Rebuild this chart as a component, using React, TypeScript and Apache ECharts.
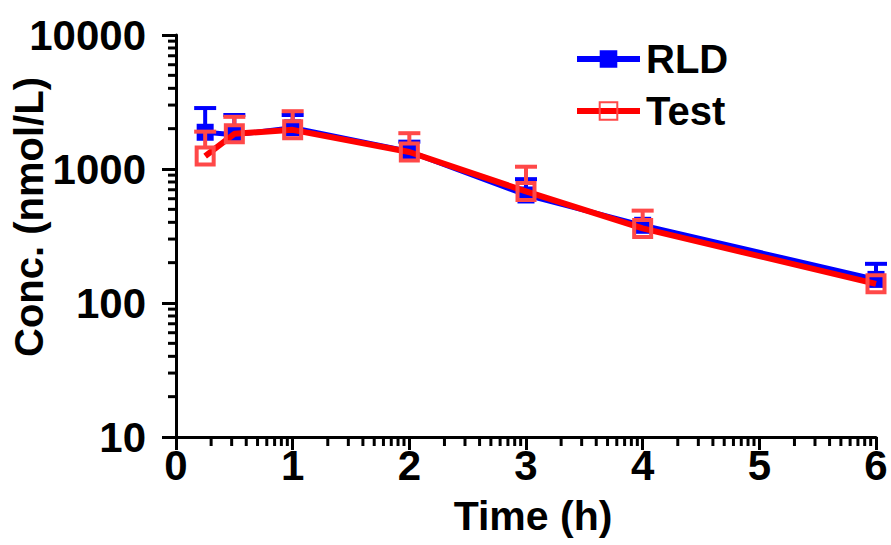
import React, { useEffect, useRef } from 'react';
import * as echarts from 'echarts';

const times = [0.25, 0.5, 1, 2, 3, 4, 6];
const rldMean = [1880, 1800, 2030, 1350, 640, 380, 150];
const rldUpper = [2850, 2530, 2530, 1600, 840, 440, 196];
const testMean = [1250, 1830, 1960, 1340, 680, 360, 139];
const testUpper = [1900, 2450, 2700, 1850, 1040, 489, 145];
const xMajor = [0, 1, 2, 3, 4, 5, 6];
const yMajor = [10, 100, 1000, 10000];
const minorMultipliers = [2, 3, 4, 5, 6, 7, 8, 9];

const FONT = '"Liberation Sans", Arial, Helvetica, sans-serif';
const BLUE = '#0000ff';
const RED_LINE = '#ff0000';
const RED_MARK = '#ff4848';

const xMinor: number[] = [];
for (let k = 0; k < xMajor.length - 1; k++) {
  for (const m of minorMultipliers) xMinor.push(xMajor[k] + Math.log10(m));
}
const yMinor: number[] = [];
for (let k = 0; k < yMajor.length - 1; k++) {
  for (const m of minorMultipliers) yMinor.push(yMajor[k] * m);
}

function errorBarSeries(name: string, means: number[], uppers: number[], color: string, half: number, z: number) {
  return {
    type: 'custom',
    name,
    z,
    coordinateSystem: 'cartesian2d',
    clip: false,
    silent: true,
    data: times.map((t, i) => [t, means[i], uppers[i]]),
    renderItem: (params: any, api: any) => {
      const x = api.value(0);
      const m = api.value(1);
      const u = api.value(2);
      const pm = api.coord([x, m]);
      const pu = api.coord([x, u]);
      const y0 = pm[1] - half;
      if (pu[1] >= y0 - 1) return { type: 'group', children: [] };
      return {
        type: 'group',
        children: [
          { type: 'line', shape: { x1: pm[0], y1: y0, x2: pm[0], y2: pu[1] }, style: { stroke: color, lineWidth: 4 } },
          { type: 'line', shape: { x1: pm[0] - 11, y1: pu[1], x2: pm[0] + 11, y2: pu[1] }, style: { stroke: color, lineWidth: 4 } },
        ],
      };
    },
  };
}

export default function App() {
  const ref = useRef<HTMLDivElement>(null);
  useEffect(() => {
    if (!ref.current) return;
    const chart = echarts.init(ref.current, null, { renderer: 'svg' });
    const labelStyle = { color: '#000', fontSize: 42, fontWeight: 'bold', fontFamily: FONT };
    chart.setOption({
      animation: false,
      backgroundColor: '#fff',
      grid: { left: 176, right: 15, top: 35, bottom: 108, containLabel: false },
      legend: {
        orient: 'vertical',
        left: 574,
        top: 39,
        padding: 0,
        itemWidth: 63,
        itemHeight: 22,
        itemGap: 12,
        data: ['RLD', 'Test'],
        lineStyle: { width: 6 },
        textStyle: { color: '#000', fontSize: 40, fontWeight: 'bold', fontFamily: FONT, padding: [0, 0, 0, 1] },
      },
      xAxis: {
        type: 'value',
        min: 0,
        max: 6,
        interval: 1,
        axisLine: { onZero: false, lineStyle: { color: '#000', width: 3 } },
        axisTick: { show: true, length: 13, lineStyle: { color: '#000', width: 3 } },
        axisLabel: { ...labelStyle, margin: 7, formatter: (v: number) => String(v) },
        splitLine: { show: false },
      },
      yAxis: {
        type: 'log',
        logBase: 10,
        min: 10,
        max: 10000,
        axisLine: { show: true, lineStyle: { color: '#000', width: 3 } },
        axisTick: { show: true, length: 14, lineStyle: { color: '#000', width: 3 } },
        axisLabel: { ...labelStyle, margin: 30, formatter: (v: number) => String(Math.round(v)) },
        splitLine: { show: false },
      },
      graphic: [
        {
          type: 'text',
          x: 29,
          y: 217,
          rotation: Math.PI / 2,
          style: { text: 'Conc. (nmol/L)', fill: '#000', fontSize: 40, fontWeight: 'bold', fontFamily: FONT, align: 'center', verticalAlign: 'middle' },
        },
        {
          type: 'text',
          x: 533,
          y: 516,
          style: { text: 'Time (h)', fill: '#000', fontSize: 41, fontWeight: 'bold', fontFamily: FONT, align: 'center', verticalAlign: 'middle' },
        },
      ],
      series: [
        {
          type: 'custom',
          name: 'xminor',
          coordinateSystem: 'cartesian2d',
          clip: false,
          silent: true,
          data: xMinor.map((v) => [v, 10]),
          renderItem: (params: any, api: any) => {
            const p = api.coord([api.value(0), api.value(1)]);
            return { type: 'line', shape: { x1: p[0], y1: p[1], x2: p[0], y2: p[1] + 9 }, style: { stroke: '#000', lineWidth: 3 } };
          },
        },
        {
          type: 'custom',
          name: 'yminor',
          coordinateSystem: 'cartesian2d',
          clip: false,
          silent: true,
          data: yMinor.map((v) => [0, v]),
          renderItem: (params: any, api: any) => {
            const p = api.coord([api.value(0), api.value(1)]);
            return { type: 'line', shape: { x1: p[0], y1: p[1], x2: p[0] - 8, y2: p[1] }, style: { stroke: '#000', lineWidth: 3 } };
          },
        },
        {
          type: 'line',
          name: 'RLD',
          z: 2,
          data: times.map((t, i) => [t, rldMean[i]]),
          symbol: 'rect',
          symbolSize: 17,
          lineStyle: { color: BLUE, width: 5 },
          itemStyle: { color: BLUE },
        },
        errorBarSeries('RLDerr', rldMean, rldUpper, BLUE, 8, 3),
        {
          type: 'line',
          name: 'Test',
          z: 4,
          data: times.map((t, i) => [t, testMean[i]]),
          symbol: 'rect',
          symbolSize: 17,
          lineStyle: { color: RED_LINE, width: 6 },
          itemStyle: { color: 'rgba(0,0,0,0)', borderColor: RED_MARK, borderWidth: 4 },
        },
        errorBarSeries('Testerr', testMean, testUpper, RED_MARK, 10, 5),
      ],
    });
    return () => chart.dispose();
  }, []);
  return <div ref={ref} style={{ position: 'fixed', left: 0, top: 0, width: 891, height: 545 }} />;
}
